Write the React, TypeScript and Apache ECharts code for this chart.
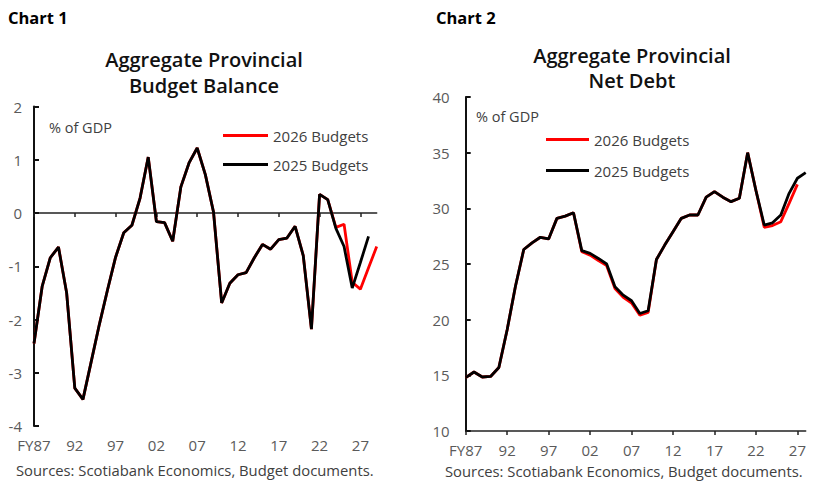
import React, { useEffect, useRef } from "react";
import * as echarts from "echarts";

// Chart 1: Aggregate Provincial Budget Balance (% of GDP), FY87..FY29
const balanceYears = [
  "FY87", "88", "89", "90", "91", "92", "93", "94", "95", "96", "97", "98", "99",
  "00", "01", "02", "03", "04", "05", "06", "07", "08", "09",
  "10", "11", "12", "13", "14", "15", "16", "17", "18", "19",
  "20", "21", "22", "23", "24", "25", "26", "27", "28", "29",
];
const balance2025 = [
  -2.45, -1.38, -0.84, -0.64, -1.5, -3.29, -3.5, -2.8, -2.1, -1.45, -0.83, -0.37, -0.23,
  0.28, 1.05, -0.16, -0.18, -0.53, 0.49, 0.94, 1.22, 0.72, 0.02,
  -1.69, -1.32, -1.16, -1.12, -0.84, -0.59, -0.68, -0.5, -0.47, -0.25,
  -0.8, -2.18, 0.35, 0.25, -0.29, -0.63, -1.41, -0.93, -0.44,
];
const balance2026 = [
  -2.45, -1.38, -0.84, -0.64, -1.5, -3.29, -3.5, -2.8, -2.1, -1.45, -0.83, -0.37, -0.23,
  0.28, 1.05, -0.16, -0.18, -0.53, 0.49, 0.94, 1.22, 0.72, 0.02,
  -1.69, -1.32, -1.16, -1.12, -0.84, -0.59, -0.68, -0.5, -0.47, -0.25,
  -0.8, -2.18, 0.35, 0.25, -0.27, -0.21, -1.3, -1.43, -1.03, -0.63,
];

// Chart 2: Aggregate Provincial Net Debt (% of GDP), FY87..FY28
const debtYears = [
  "FY87", "88", "89", "90", "91", "92", "93", "94", "95", "96", "97", "98", "99",
  "00", "01", "02", "03", "04", "05", "06", "07", "08", "09",
  "10", "11", "12", "13", "14", "15", "16", "17", "18", "19",
  "20", "21", "22", "23", "24", "25", "26", "27", "28",
];
const debt2025 = [
  14.8, 15.3, 14.85, 14.9, 15.7, 19.1, 23.0, 26.3, 26.9, 27.4, 27.25, 29.1, 29.3,
  29.6, 26.2, 25.95, 25.5, 25.0, 22.95, 22.2, 21.7, 20.55, 20.8,
  25.4, 26.7, 27.9, 29.1, 29.4, 29.4, 31.0, 31.5, 31.0, 30.6,
  30.9, 35.0, 31.6, 28.5, 28.7, 29.4, 31.35, 32.7, 33.2,
];
const debt2026 = [
  14.8, 15.3, 14.85, 14.9, 15.7, 19.1, 23.0, 26.3, 26.9, 27.4, 27.25, 29.1, 29.3,
  29.6, 26.1, 25.8, 25.3, 24.85, 22.8, 22.0, 21.5, 20.4, 20.65,
  25.4, 26.7, 27.9, 29.1, 29.4, 29.4, 31.0, 31.5, 31.0, 30.6,
  30.9, 35.0, 31.6, 28.3, 28.45, 28.8, 30.45, 32.15,
];

const FONT = "Open Sans";
const TXT = "#404040";
const AX = "#5a5a5a";

export default function App() {
  const ref = useRef<HTMLDivElement>(null);
  useEffect(() => {
    if (!ref.current) return;
    const chart = echarts.init(ref.current, undefined, { renderer: "svg" });
    const axisLabel = { color: AX, fontSize: 15, fontFamily: FONT, margin: 11 };
    chart.setOption({
      animation: false,
      backgroundColor: "#ffffff",
      title: [
        { text: "Chart 1", left: 3, top: 4, textStyle: { fontFamily: FONT, fontSize: 16.5, fontWeight: "bold", color: "#000" } },
        { text: "Chart 2", left: 431, top: 4, textStyle: { fontFamily: FONT, fontSize: 16.5, fontWeight: "bold", color: "#000" } },
        {
          text: "Aggregate Provincial\nBudget Balance", left: 199, top: 41, textAlign: "center",
          textStyle: { fontFamily: FONT, fontSize: 20, fontWeight: 600, color: "#111", lineHeight: 26, align: "center" },
        },
        {
          text: "Aggregate Provincial\nNet Debt", left: 627, top: 38, textAlign: "center",
          textStyle: { fontFamily: FONT, fontSize: 20, fontWeight: 600, color: "#111", lineHeight: 25, align: "center" },
        },
      ],
      legend: [
        {
          left: 218, top: 123, orient: "vertical", itemGap: 14, itemWidth: 45, itemHeight: 3,
          icon: "rect", data: ["2026 Budgets", "2025 Budgets"],
          textStyle: { fontFamily: FONT, fontSize: 15, color: TXT },
        },
        {
          left: 541, top: 127, orient: "vertical", itemGap: 16, itemWidth: 43, itemHeight: 3,
          icon: "rect", data: ["2026 Budgets", "2025 Budgets"],
          textStyle: { fontFamily: FONT, fontSize: 15, color: TXT },
        },
      ],
      graphic: [
        { type: "text", x: 49, y: 127, style: { text: "% of GDP", font: `14.5px '${FONT}'`, fill: TXT, verticalAlign: "middle" } },
        { type: "text", x: 476, y: 116, style: { text: "% of GDP", font: `14.5px '${FONT}'`, fill: TXT, verticalAlign: "middle" } },
        { type: "text", x: 16, y: 470, style: { text: "Sources: Scotiabank Economics, Budget documents.", font: `14.8px '${FONT}'`, fill: TXT, verticalAlign: "middle" } },
        { type: "text", x: 445, y: 471, style: { text: "Sources: Scotiabank Economics, Budget documents.", font: `14.8px '${FONT}'`, fill: TXT, verticalAlign: "middle" } },
      ],
      grid: [
        { left: 34, top: 106.5, width: 342.7, height: 319.5, containLabel: false },
        { left: 465.7, top: 97, width: 340, height: 334, containLabel: false },
      ],
      xAxis: [
        {
          gridIndex: 0, type: "category", data: balanceYears, boundaryGap: false, position: "bottom",
          axisLine: { show: false, onZero: false }, axisTick: { show: false },
          axisLabel: { ...axisLabel, interval: 4 }, splitLine: { show: false },
        },
        {
          gridIndex: 0, type: "category", data: balanceYears, boundaryGap: false, position: "bottom",
          axisLine: { show: true, onZero: true, lineStyle: { color: "#222", width: 1.5 } },
          axisTick: { show: true, interval: 4, length: 4, lineStyle: { color: "#222", width: 1.5 } },
          axisLabel: { show: false }, splitLine: { show: false },
        },
        {
          gridIndex: 1, type: "category", data: debtYears, boundaryGap: false, position: "bottom",
          axisLine: { show: true, onZero: false, lineStyle: { color: "#222", width: 1.5 } },
          axisTick: { show: true, interval: 4, length: 4, lineStyle: { color: "#222", width: 1.5 } },
          axisLabel: { ...axisLabel, interval: 4 }, splitLine: { show: false },
        },
      ],
      yAxis: [
        {
          gridIndex: 0, type: "value", min: -4, max: 2, interval: 1,
          axisLine: { show: true, lineStyle: { color: "#111", width: 2 } },
          axisTick: { show: true, inside: true, length: 5, lineStyle: { color: "#111", width: 2 } },
          axisLabel: { ...axisLabel, margin: 12 }, splitLine: { show: false },
        },
        {
          gridIndex: 1, type: "value", min: 10, max: 40, interval: 5,
          axisLine: { show: true, lineStyle: { color: "#111", width: 2 } },
          axisTick: { show: true, inside: true, length: 5, lineStyle: { color: "#111", width: 2 } },
          axisLabel: { ...axisLabel, margin: 16 }, splitLine: { show: false },
        },
      ],
      series: [
        {
          name: "2026 Budgets", type: "line", xAxisIndex: 0, yAxisIndex: 0, data: balance2026,
          showSymbol: false, symbol: "none", color: "#ff0000", lineStyle: { color: "#ff0000", width: 2.8 },
        },
        {
          name: "2025 Budgets", type: "line", xAxisIndex: 0, yAxisIndex: 0, data: balance2025,
          showSymbol: false, symbol: "none", color: "#000000", lineStyle: { color: "#000000", width: 2.8 },
        },
        {
          name: "2026 Budgets", type: "line", xAxisIndex: 2, yAxisIndex: 1, data: debt2026,
          showSymbol: false, symbol: "none", color: "#ff0000", lineStyle: { color: "#ff0000", width: 2.8 },
        },
        {
          name: "2025 Budgets", type: "line", xAxisIndex: 2, yAxisIndex: 1, data: debt2025,
          showSymbol: false, symbol: "none", color: "#000000", lineStyle: { color: "#000000", width: 2.8 },
        },
      ],
    });
    return () => chart.dispose();
  }, []);
  return (
    <div
      ref={ref}
      style={{ position: "absolute", left: 0, top: 0, width: 828, height: 483, background: "#fff" }}
    />
  );
}
